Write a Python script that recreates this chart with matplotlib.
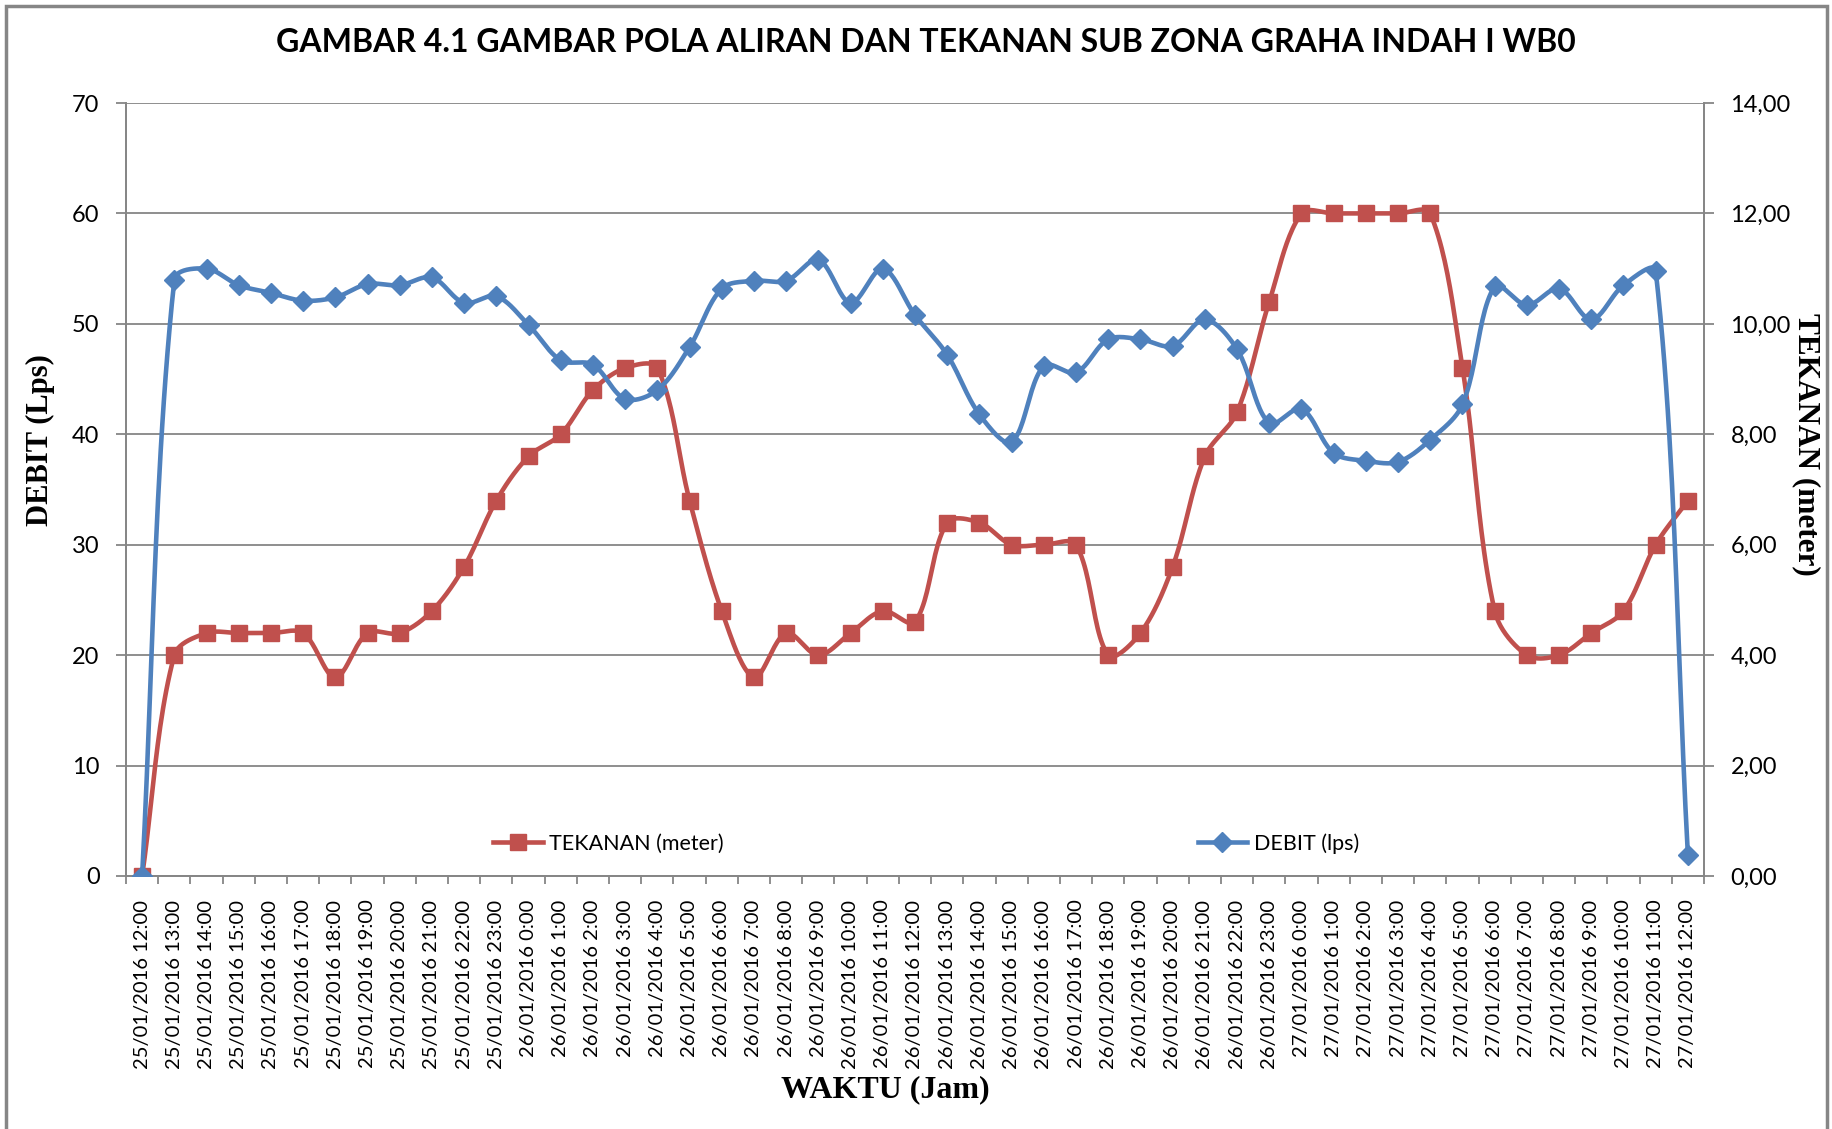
import numpy as np
import matplotlib
matplotlib.use("Agg")
import matplotlib.pyplot as plt
from matplotlib.lines import Line2D
from matplotlib.patches import Rectangle
from matplotlib.ticker import FuncFormatter, MultipleLocator

# --- data ---
waktu = (
    ["25/01/2016 %d:00" % h for h in range(12, 24)]
    + ["26/01/2016 %d:00" % h for h in range(0, 24)]
    + ["27/01/2016 %d:00" % h for h in range(0, 13)]
)

# TEKANAN (meter), drawn on the left scale
tekanan = [0, 20, 22, 22, 22, 22, 18, 22, 22, 24, 28, 34,
           38, 40, 44, 46, 46, 34, 24, 18, 22, 20, 22, 24,
           23, 32, 32, 30, 30, 30, 20, 22, 28, 38, 42, 52,
           60, 60, 60, 60, 60, 46, 24, 20, 20, 22, 24, 30,
           34]

# DEBIT (lps), drawn on the right scale
debit = [0.00, 10.80, 11.00, 10.70, 10.56, 10.42, 10.48, 10.72, 10.70, 10.84, 10.38, 10.50,
         9.98, 9.34, 9.26, 8.64, 8.80, 9.58, 10.64, 10.78, 10.78, 11.16, 10.38, 11.00,
         10.16, 9.44, 8.36, 7.86, 9.24, 9.12, 9.72, 9.72, 9.60, 10.08, 9.54, 8.20,
         8.46, 7.66, 7.52, 7.50, 7.90, 8.54, 10.68, 10.34, 10.64, 10.08, 10.70, 10.96,
         0.38]

RED = "#C0504D"
BLUE = "#4F81BD"
GRID = "#868686"
SANS = "Lato"
SERIF = "Liberation Serif"

PX_X = 32.2  # px per category, used only to shape the smoothing


def smooth(y, px_y, n=24):
    # bezier smoothing like excel: tangents weighted by segment length on screen
    y = np.asarray(y, dtype=float)
    P = np.column_stack([np.arange(len(y)) * PX_X, y * px_y])
    m = len(P)
    out = [P[:1]]
    for i in range(m - 1):
        p0 = P[max(i - 1, 0)]
        p1, p2 = P[i], P[i + 1]
        p3 = P[min(i + 2, m - 1)]
        d01 = np.hypot(*(p1 - p0))
        d12 = np.hypot(*(p2 - p1))
        d23 = np.hypot(*(p3 - p2))
        w1 = d12 / (d01 + d12) if d01 + d12 > 0 else 0
        w2 = d12 / (d12 + d23) if d12 + d23 > 0 else 0
        c1 = p1 + (p2 - p0) * w1 / 3
        c2 = p2 - (p3 - p1) * w2 / 3
        t = np.linspace(0, 1, n + 1)[1:, None]
        seg = ((1 - t) ** 3 * p1 + 3 * (1 - t) ** 2 * t * c1
               + 3 * (1 - t) * t ** 2 * c2 + t ** 3 * p2)
        out.append(seg)
    out = np.vstack(out)
    return out[:, 0] / PX_X, out[:, 1] / px_y


fig = plt.figure(figsize=(18.33, 11.29), dpi=100)
ax = fig.add_axes([126 / 1833, 1 - 876 / 1129, (1704 - 126) / 1833, (876 - 103) / 1129])
ax2 = ax.twinx()

x = np.arange(len(waktu))

sx, sy = smooth(tekanan, 773 / 70)
ax.plot(sx, sy, color=RED, lw=3.3, zorder=3)
ax.plot(x, tekanan, ls="none", marker="s", ms=12, color=RED, zorder=4)

bx, by = smooth(debit, 773 / 14)
ax2.plot(bx, by, color=BLUE, lw=3.3, zorder=3)
ax2.plot(x, debit, ls="none", marker="D", ms=10, color=BLUE, zorder=4)

ax.set_xlim(-0.5, len(waktu) - 0.5)
ax.set_ylim(0, 70)
ax2.set_ylim(0, 14)
ax.yaxis.set_major_locator(MultipleLocator(10))
ax2.yaxis.set_major_locator(MultipleLocator(2))
ax2.yaxis.set_major_formatter(FuncFormatter(lambda v, _: ("%.2f" % v).replace(".", ",")))

ax.set_xticks(x)
ax.set_xticklabels(waktu, rotation=90, va="top", ha="center", fontsize=14.5, family=SANS)
ax.set_xticks(np.arange(-0.5, len(waktu)), minor=True)
ax.tick_params(axis="x", which="major", length=0, pad=17)
ax.tick_params(axis="x", which="minor", length=6, color=GRID, width=1.3)
ax.tick_params(axis="y", length=7, color=GRID, width=1.3, pad=12, labelsize=17)
ax2.tick_params(axis="y", length=7, color=GRID, width=1.3, pad=12, labelsize=17)
for lab in ax.get_yticklabels() + ax2.get_yticklabels():
    lab.set_family(SANS)

ax.grid(axis="y", color=GRID, lw=1.3)
ax.set_axisbelow(True)
for a in (ax, ax2):
    a.spines["top"].set_visible(False)
    a.spines["left"].set_color(GRID)
    a.spines["right"].set_color(GRID)
    a.spines["bottom"].set_color(GRID)
    for s in a.spines.values():
        s.set_linewidth(1.3)

handles = [
    Line2D([], [], color=RED, lw=3.3, marker="s", ms=12),
    Line2D([], [], color=BLUE, lw=3.3, marker="D", ms=10),
]
ax2.legend(handles, ["TEKANAN (meter)", "DEBIT (lps)"], ncol=2, frameon=False,
           loc="center", bbox_to_anchor=(0.507, 0.042), columnspacing=22,
           handlelength=2.3, handletextpad=0.3, prop={"family": SANS, "size": 15.5})

fig.text(926 / 1833, 1 - 42 / 1129, "GAMBAR 4.1 GAMBAR POLA ALIRAN DAN TEKANAN SUB ZONA GRAHA INDAH I WB0",
         ha="center", va="center", fontsize=23, fontweight="bold", family=SANS)
fig.text(40 / 1833, 1 - 440 / 1129, "DEBIT (Lps)", rotation=90, ha="center", va="center",
         fontsize=22, fontweight="bold", family=SERIF)
fig.text(1806 / 1833, 1 - 444 / 1129, "TEKANAN (meter)", rotation=270, ha="center", va="center",
         fontsize=22.5, fontweight="bold", family=SERIF)
fig.text(885 / 1833, 1 - 1090 / 1129, "WAKTU (Jam)", ha="center", va="center",
         fontsize=23, fontweight="bold", family=SERIF)

fig.patches.append(Rectangle((6 / 1833, -0.05), (1827 - 6) / 1833, 1.05 - 6 / 1129,
                             transform=fig.transFigure, fill=False, ec=GRID, lw=2.5))

fig.savefig("out.png", dpi=100)
